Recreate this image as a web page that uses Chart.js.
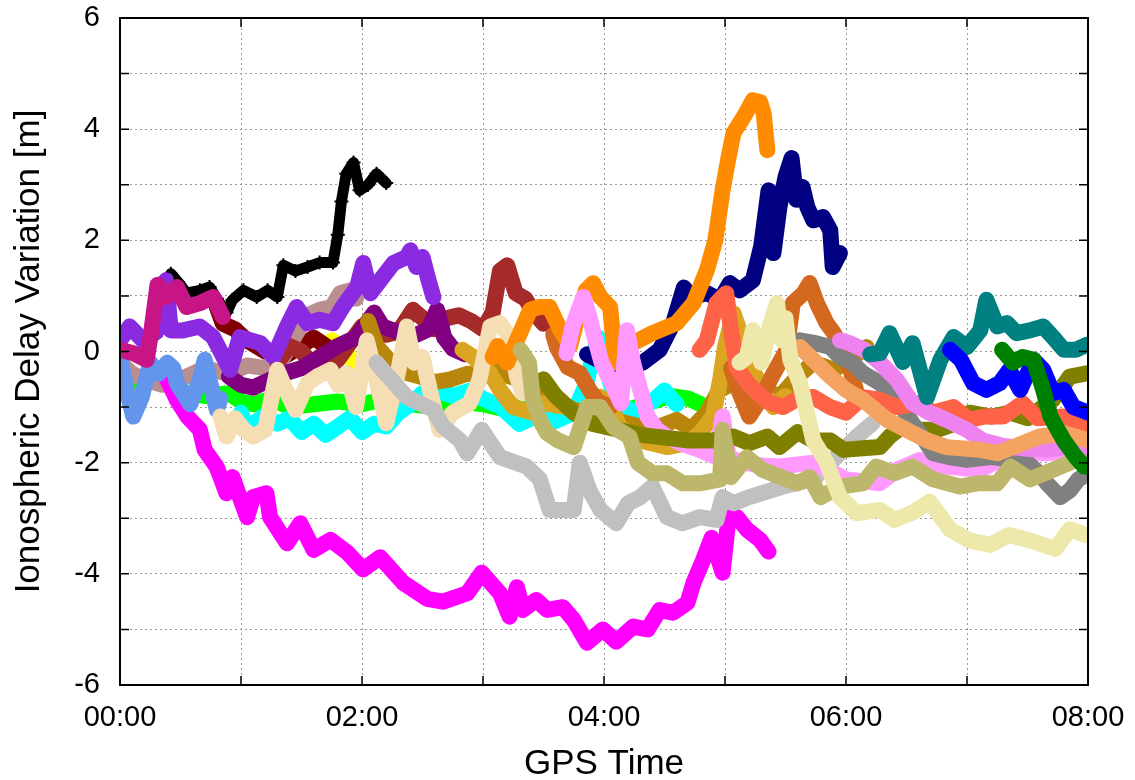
<!DOCTYPE html>
<html>
<head>
<meta charset="utf-8">
<script src="https://cdn.jsdelivr.net/npm/chart.js@4.4.1/dist/chart.umd.min.js"></script>
<style>
  html, body { margin: 0; padding: 0; background: #fff; }
  #wrap { width: 1135px; height: 780px; }
</style>
</head>
<body>
<div id="wrap"><canvas id="delayChart" width="1135" height="780"></canvas></div>
<script>
// x = GPS time in hours, y = ionospheric delay variation [m]
var xTicks = [0, 1, 2, 3, 4, 5, 6, 7, 8];
var yTicks = [-6, -5, -4, -3, -2, -1, 0, 1, 2, 3, 4, 5, 6];

var lime = [[0,-0.35],[0.1,-0.45],[0.15,-0.6],[0.25,-0.5],[0.4,-0.6],[0.55,-0.75],[0.7,-0.8],[0.9,-0.75],[1.0,-0.9],[1.1,-0.95],[1.25,-0.85],[1.4,-1.0],[1.6,-0.95],[1.8,-0.9],[2.0,-0.95],[2.2,-0.85],[2.4,-0.95],[2.6,-1.0],[2.8,-0.9],[3.0,-0.95],[3.2,-1.05],[3.4,-0.95],[3.6,-1.05],[3.8,-1.0],[4.0,-0.95],[4.2,-1.05],[4.4,-0.9],[4.55,-0.8],[4.7,-0.85],[4.8,-0.95]];
var cyan = [[1.0,-1.1],[1.05,-1.4],[1.1,-1.3],[1.2,-1.15],[1.3,-1.3],[1.4,-1.2],[1.5,-1.45],[1.6,-1.3],[1.7,-1.5],[1.8,-1.35],[1.9,-1.2],[2.0,-1.45],[2.1,-1.3],[2.2,-1.35],[2.3,-1.1],[2.4,-0.95],[2.5,-0.75],[2.6,-0.7],[2.75,-0.8],[2.9,-0.7],[3.0,-0.85],[3.15,-1.0],[3.3,-1.3],[3.45,-1.15],[3.6,-1.25],[3.75,-1.1],[3.85,-0.6],[3.95,0.25],[4.0,-0.2],[4.1,-0.9],[4.25,-1.1],[4.4,-0.9],[4.5,-0.7],[4.6,-0.95]];
var yellow = [[1.55,-0.3],[1.65,-0.1],[1.75,0.2],[1.85,0.05],[1.95,-0.25],[2.05,-0.4]];
var maroon = [[0.8,0.8],[0.85,0.5],[0.95,0.4],[1.05,0.2],[1.2,0.0],[1.35,-0.1],[1.5,0.1],[1.6,0.25],[1.7,0.1]];
var rosyBrown = [[0,-0.2],[0.1,-0.4],[0.2,-0.5],[0.35,-0.6],[0.5,-0.5],[0.7,-0.3],[0.9,-0.4],[1.05,-0.25],[1.2,-0.3],[1.35,-0.1],[1.45,0.3],[1.55,0.65],[1.65,0.75],[1.75,0.8],[1.82,1.05],[1.9,1.1],[1.95,0.95]];
var brown = [[1.3,-0.2],[1.4,0.1],[1.5,0.0],[1.6,-0.25],[1.7,-0.35],[1.8,-0.15],[1.9,0.15],[2.0,0.45],[2.1,0.3],[2.2,0.3],[2.3,0.35],[2.42,0.75],[2.5,0.6],[2.6,0.4],[2.7,0.6],[2.8,0.65],[2.9,0.55],[3.0,0.4],[3.08,0.7],[3.14,1.45],[3.2,1.55],[3.27,1.05],[3.35,0.95],[3.42,0.7],[3.5,0.5]];
var purple = [[0.9,-0.45],[1.0,-0.6],[1.1,-0.65],[1.2,-0.55],[1.35,-0.4],[1.5,-0.3],[1.65,-0.1],[1.8,0.1],[1.95,0.25],[2.1,0.7],[2.17,0.45],[2.3,0.35],[2.45,0.3],[2.55,0.4],[2.62,0.75],[2.68,0.25],[2.75,0.05],[2.85,-0.05]];
var magenta = [[0.38,-0.46],[0.47,-0.87],[0.56,-1.18],[0.66,-1.41],[0.7,-1.77],[0.8,-2.08],[0.88,-2.55],[0.93,-2.26],[1.05,-2.98],[1.1,-2.62],[1.21,-2.55],[1.24,-2.98],[1.38,-3.45],[1.49,-3.09],[1.6,-3.57],[1.74,-3.39],[1.88,-3.62],[2.01,-3.92],[2.15,-3.7],[2.34,-4.16],[2.54,-4.45],[2.67,-4.5],[2.87,-4.35],[2.99,-3.98],[3.14,-4.35],[3.22,-4.77],[3.28,-4.24],[3.33,-4.65],[3.44,-4.47],[3.53,-4.65],[3.66,-4.6],[3.75,-4.83],[3.86,-5.24],[3.99,-5.0],[4.1,-5.22],[4.24,-4.95],[4.36,-5.0],[4.46,-4.65],[4.57,-4.7],[4.69,-4.52],[4.74,-4.16],[4.82,-3.75],[4.89,-3.35],[4.98,-3.98],[5.03,-2.98],[5.1,-2.98],[5.18,-3.2],[5.29,-3.39],[5.36,-3.6]];
var black = [[0.42,1.4],[0.48,1.25],[0.55,1.05],[0.66,1.1],[0.74,1.16],[0.8,0.95],[0.88,0.7],[0.93,0.93],[1.02,1.1],[1.13,0.98],[1.22,1.1],[1.3,0.98],[1.35,1.55],[1.45,1.45],[1.55,1.52],[1.65,1.6],[1.76,1.6],[1.8,2.1],[1.83,2.7],[1.87,3.2],[1.93,3.4],[1.98,2.9],[2.05,3.0],[2.12,3.2],[2.2,3.03]];
var cornflower = [[0,-0.1],[0.05,-0.64],[0.11,-1.17],[0.18,-0.82],[0.25,-0.2],[0.32,-0.4],[0.39,-0.2],[0.44,-0.3],[0.47,-0.57],[0.58,-0.95],[0.66,-0.5],[0.7,-0.15],[0.75,-0.6],[0.8,-1.05],[0.83,-0.85]];
var blueViolet = [[0,0.2],[0.08,0.45],[0.19,0.2],[0.3,0.35],[0.38,1.28],[0.42,0.38],[0.52,0.38],[0.66,0.45],[0.77,0.26],[0.91,-0.33],[0.99,0.26],[1.16,0.15],[1.27,-0.1],[1.38,0.45],[1.46,0.8],[1.55,0.51],[1.65,0.57],[1.76,0.51],[1.84,0.8],[1.96,1.16],[2.01,1.59],[2.07,1.05],[2.15,1.28],[2.26,1.59],[2.37,1.7],[2.4,1.82],[2.45,1.52],[2.5,1.7],[2.55,1.28],[2.59,0.98]];
var violetRed = [[0,0.03],[0.11,-0.03],[0.22,-0.15],[0.26,0.38],[0.31,1.2],[0.39,0.98],[0.47,1.16],[0.55,0.8],[0.66,0.87],[0.77,0.98],[0.85,0.62]];
var darkGoldenrod = [[2.05,0.55],[2.12,0.1],[2.2,-0.1],[2.31,-0.35],[2.48,-0.45],[2.6,-0.55],[2.73,-0.5],[2.87,-0.4],[3.0,-0.45],[3.12,-0.35],[3.22,-0.45],[3.36,-0.55],[3.5,-0.65],[3.62,-0.9],[3.75,-1.05],[3.97,-1.17],[4.19,-1.29],[4.4,-1.4],[4.6,-1.23],[4.72,-1.4],[4.85,-1.1],[4.95,-0.7],[5.07,-0.57],[5.2,-0.75],[5.35,-0.7],[5.45,-0.82],[5.6,-0.45],[5.73,-0.2],[5.9,-0.33],[6.06,-0.1],[6.17,0.08]];
var goldenrod = [[2.83,0.03],[2.92,-0.1],[3.0,-0.28],[3.06,-0.39],[3.14,-0.69],[3.25,-1.0],[3.41,-1.1],[3.5,-0.93],[3.69,-1.0],[3.8,-1.17],[3.97,-0.82],[4.05,-0.93],[4.13,-1.36],[4.3,-1.6],[4.52,-1.72],[4.69,-1.65],[4.79,-1.47],[4.9,-1.17],[4.96,-0.51],[5.0,0.08],[5.07,0.69],[5.12,0.38],[5.2,-0.2],[5.31,-0.69],[5.4,-1.0],[5.5,-0.8]];
var wheat = [[0.83,-1.17],[0.88,-1.53],[0.95,-1.2],[1.02,-1.4],[1.1,-1.53],[1.2,-1.41],[1.3,-0.33],[1.37,-0.69],[1.45,-1.05],[1.55,-0.57],[1.63,-0.45],[1.74,-0.33],[1.8,-0.6],[1.87,-0.39],[1.95,-1.0],[2.04,0.2],[2.12,-0.51],[2.2,-1.29],[2.28,-0.57],[2.37,0.45],[2.43,-0.2],[2.5,-0.1],[2.56,-0.69],[2.64,-1.41],[2.75,-1.1],[2.89,-0.93],[2.97,-0.51],[3.06,0.45],[3.14,0.51],[3.22,0.26],[3.28,-0.45],[3.33,-0.75]];
var silver = [[2.12,-0.2],[2.17,-0.33],[2.37,-0.82],[2.59,-1.05],[2.67,-1.35],[2.81,-1.6],[2.87,-1.83],[2.99,-1.41],[3.14,-1.9],[3.36,-2.07],[3.47,-2.3],[3.55,-2.85],[3.75,-2.85],[3.8,-2.0],[3.88,-2.5],[3.97,-2.85],[4.1,-3.09],[4.2,-2.73],[4.3,-2.62],[4.4,-2.43],[4.52,-2.98],[4.65,-3.09],[4.79,-2.98],[4.93,-3.03],[4.98,-2.62],[5.07,-2.73],[5.2,-2.62],[5.48,-2.43],[5.73,-2.3],[5.92,-1.9],[6.09,-1.53],[6.22,-1.29]];
var chocolate = [[3.58,0.3],[3.61,0.08],[3.7,-0.28],[3.8,-0.39],[3.88,-0.69],[3.95,-0.9],[4.05,-1.0],[4.5,null],[5.05,-0.3],[5.1,-0.64],[5.2,-1.17],[5.29,-0.87],[5.4,-0.4],[5.51,0.03],[5.56,0.87],[5.65,1.05],[5.7,1.23],[5.76,0.87],[5.84,0.51],[5.9,0.33],[5.98,0.03],[6.03,-0.28],[6.09,-0.75]];
var navy = [[3.86,-0.05],[3.95,-0.15],[4.08,-0.28],[4.2,-0.3],[4.32,-0.2],[4.46,0.03],[4.57,0.5],[4.66,1.15],[4.72,0.98],[4.85,1.05],[4.96,0.93],[5.04,1.23],[5.12,1.1],[5.23,1.28],[5.3,1.9],[5.36,2.9],[5.4,1.77],[5.45,2.6],[5.5,3.14],[5.55,3.48],[5.59,2.73],[5.64,2.96],[5.68,2.6],[5.73,2.36],[5.81,2.42],[5.87,2.18],[5.89,1.52],[5.95,1.77]];
var orange = [[3.08,-0.1],[3.12,0.1],[3.2,-0.2],[3.3,0.3],[3.39,0.75],[3.46,0.8],[3.55,0.8],[3.64,0.38],[3.72,0.1],[3.78,0.6],[3.85,1.1],[3.91,1.23],[3.97,0.98],[4.05,0.8],[4.08,0.15],[4.1,-0.2],[4.17,0.0],[4.24,0.15],[4.4,0.33],[4.6,0.51],[4.74,0.87],[4.85,1.46],[4.92,2.0],[4.98,2.9],[5.03,3.5],[5.07,3.93],[5.12,4.1],[5.17,4.28],[5.23,4.52],[5.29,4.49],[5.32,4.28],[5.35,3.62]];
var lightPink = [[3.69,-0.03],[3.74,0.45],[3.83,0.98],[3.88,0.62],[3.93,0.2],[3.98,-0.2],[4.08,-0.64],[4.14,-0.93],[4.19,0.38],[4.24,-0.2],[4.3,-0.69],[4.36,-1.17],[4.44,-1.41],[4.52,-1.53],[4.63,-1.65],[4.79,-1.77],[4.93,-1.9],[4.98,-1.17],[5.03,-1.9],[5.15,-2.0],[5.3,-2.05],[5.45,-2.07],[5.73,-2.0],[6.0,-2.3],[6.28,-2.37],[6.42,-2.13],[6.61,-1.95],[6.83,-2.07],[7.11,-2.13],[7.38,-1.83],[7.66,-1.83],[8.0,-1.77]];
var olive = [[3.5,-0.5],[3.6,-0.8],[3.75,-1.1],[3.9,-1.3],[4.1,-1.4],[4.3,-1.5],[4.5,-1.55],[4.7,-1.6],[4.9,-1.6],[5.07,-1.53],[5.2,-1.65],[5.35,-1.53],[5.45,-1.72],[5.6,-1.45],[5.73,-1.6],[5.87,-1.6],[5.98,-1.77],[6.14,-1.74],[6.28,-1.72],[6.36,-1.53],[6.5,-1.29],[6.6,-1.41],[6.75,-1.41],[6.9,-1.3],[7.02,-1.1],[7.2,-1.17],[7.36,-1.1],[7.5,-1.2],[7.71,-0.87],[7.85,-0.45],[8.0,-0.39]];
var gray = [[5.55,0.1],[5.62,0.2],[5.75,0.15],[5.87,0.08],[5.95,-0.1],[6.05,-0.2],[6.14,-0.39],[6.28,-0.57],[6.42,-0.87],[6.55,-1.29],[6.65,-1.6],[6.72,-1.83],[6.85,-1.9],[7.0,-1.95],[7.2,-1.9],[7.38,-1.95],[7.5,-2.0],[7.6,-2.2],[7.66,-2.37],[7.77,-2.62],[7.85,-2.5],[7.92,-2.3],[8.0,-2.2]];
var tomato = [[4.79,0.03],[4.85,0.2],[4.93,0.87],[5.01,1.05],[5.05,0.38],[5.1,-0.3],[5.2,-0.6],[5.35,-0.9],[5.48,-1.0],[5.6,-0.85],[5.73,-0.82],[5.87,-1.0],[6.0,-1.1],[6.14,-0.82],[6.28,-0.87],[6.42,-1.0],[6.61,-0.93],[6.72,-1.1],[6.89,-1.0],[7.02,-1.23],[7.15,-1.17],[7.3,-1.17],[7.46,-0.93],[7.58,-1.2],[7.8,-1.17],[8.0,-1.36]];
var darkKhaki = [[3.31,0.03],[3.38,-0.2],[3.41,-0.82],[3.47,-1.23],[3.53,-1.47],[3.62,-1.6],[3.75,-1.72],[3.86,-1.0],[3.97,-1.0],[4.08,-1.36],[4.21,-1.53],[4.28,-2.0],[4.4,-2.19],[4.52,-2.19],[4.65,-2.37],[4.8,-2.37],[4.96,-2.3],[4.98,-1.41],[5.05,-2.26],[5.18,-1.9],[5.31,-2.13],[5.45,-2.25],[5.6,-2.37],[5.7,-2.26],[5.79,-2.62],[5.95,-2.43],[6.14,-2.37],[6.25,-2.07],[6.4,-2.19],[6.55,-2.07],[6.72,-2.3],[6.94,-2.43],[7.1,-2.37],[7.25,-2.37],[7.36,-2.07],[7.52,-2.3],[7.71,-2.13],[7.85,-2.0],[8.0,-1.77]];
var violet = [[5.95,0.2],[6.03,0.15],[6.15,0.03],[6.28,-0.2],[6.42,-0.51],[6.55,-0.93],[6.69,-1.1],[6.83,-1.23],[7.0,-1.41],[7.13,-1.6],[7.3,-1.7],[7.5,-1.75],[7.66,-1.77],[7.85,-1.7],[8.0,-1.72]];
var sandyBrown = [[5.62,0.08],[5.73,-0.15],[5.87,-0.45],[6.0,-0.69],[6.14,-0.87],[6.34,-1.23],[6.5,-1.41],[6.67,-1.6],[6.83,-1.72],[7.0,-1.75],[7.11,-1.77],[7.25,-1.83],[7.38,-1.72],[7.6,-1.53],[7.8,-1.47],[8.0,-1.6]];
var teal = [[6.2,-0.05],[6.28,-0.03],[6.36,0.33],[6.47,-0.19],[6.55,0.15],[6.67,-0.82],[6.78,-0.15],[6.89,0.26],[7.0,0.08],[7.11,0.38],[7.16,0.93],[7.25,0.45],[7.33,0.51],[7.41,0.33],[7.52,0.38],[7.63,0.45],[7.71,0.26],[7.8,0.03],[7.9,0.03],[7.99,0.12]];
var blue = [[6.86,0.03],[6.95,-0.15],[7.05,-0.57],[7.16,-0.69],[7.27,-0.57],[7.35,-0.33],[7.44,-0.69],[7.55,-0.15],[7.63,-0.33],[7.71,-0.75],[7.8,-0.69],[7.88,-1.0],[8.0,-1.1]];
var darkGreen = [[7.29,0.03],[7.38,-0.2],[7.46,-0.1],[7.55,-0.15],[7.63,-0.69],[7.69,-1.17],[7.8,-1.6],[7.9,-1.9],[7.97,-2.07]];
var paleGoldenrod = [[5.12,-0.2],[5.18,-0.1],[5.23,0.38],[5.3,-0.2],[5.37,0.45],[5.43,0.87],[5.47,0.2],[5.5,0.6],[5.54,-0.15],[5.62,-0.57],[5.73,-1.6],[5.84,-2.0],[5.95,-2.62],[6.09,-2.91],[6.28,-2.85],[6.4,-3.03],[6.55,-2.9],[6.69,-2.7],[6.86,-3.2],[7.02,-3.4],[7.19,-3.48],[7.35,-3.3],[7.52,-3.4],[7.73,-3.55],[7.85,-3.2],[7.98,-3.3]];

// drawing order: first is bottom
var seriesList = [
	[lime, '#00ff00'], [cyan, '#00ffff'], [yellow, '#ffff00'], [maroon, '#800000'],
	[rosyBrown, '#bc8f8f'], [brown, '#a52a2a'], [purple, '#800080'], [magenta, '#ff00ff'],
	[black, '#000000'], [cornflower, '#6495ed'], [blueViolet, '#8a2be2'], [violetRed, '#c71585'],
	[darkGoldenrod, '#b8860b'], [goldenrod, '#daa520'], [wheat, '#f5deb3'], [silver, '#c0c0c0'],
	[chocolate, '#d2691e'], [navy, '#000080'], [orange, '#ff8c00'], [lightPink, '#ff99ff'],
	[olive, '#808000'], [gray, '#808080'], [tomato, '#ff6347'], [darkKhaki, '#bdb76b'],
	[violet, '#ee82ee'], [sandyBrown, '#f4a460'], [teal, '#008080'], [blue, '#0000ff'],
	[darkGreen, '#008000'], [paleGoldenrod, '#eee8aa']
];

var datasets = [];
for (let i = 0; i < seriesList.length; i++) {
	var s = seriesList[i];
	var isBlack = s[1] == '#000000';
	datasets.push({
		data: s[0].map(function(p) { return { x: p[0], y: p[1] }; }),
		borderColor: s[1],
		backgroundColor: s[1],
		borderWidth: isBlack ? 11 : 16,
		borderCapStyle: 'round',
		borderJoinStyle: 'round',
		pointRadius: isBlack ? 7 : 0,
		pointStyle: 'cross',
		pointBorderWidth: 2,
		tension: 0,
		spanGaps: false,
		order: seriesList.length - i
	});
}

// frame and inward ticks like gnuplot
var framePlugin = {
	id: 'frame',
	afterDraw: function(chart) {
		var ctx = chart.ctx, a = chart.chartArea;
		var xs = chart.scales.x, ys = chart.scales.y;
		ctx.save();
		ctx.strokeStyle = '#000';
		ctx.lineWidth = 1.5;
		ctx.beginPath();
		for (let v of xTicks) {
			var px = xs.getPixelForValue(v);
			ctx.moveTo(px, a.bottom); ctx.lineTo(px, a.bottom - 9);
			ctx.moveTo(px, a.top); ctx.lineTo(px, a.top + 9);
		}
		for (let v of yTicks) {
			var py = ys.getPixelForValue(v);
			ctx.moveTo(a.left, py); ctx.lineTo(a.left + 9, py);
			ctx.moveTo(a.right, py); ctx.lineTo(a.right - 9, py);
		}
		ctx.stroke();
		ctx.lineWidth = 2;
		ctx.strokeRect(a.left, a.top, a.right - a.left, a.bottom - a.top);
		ctx.restore();
	}
};

var font = { family: '"Liberation Sans", Arial, sans-serif', size: 29 };
var titleFont = { family: '"Liberation Sans", Arial, sans-serif', size: 35 };

new Chart(document.getElementById('delayChart'), {
	type: 'line',
	data: { datasets: datasets },
	plugins: [framePlugin],
	options: {
		responsive: false,
		animation: false,
		layout: { padding: { top: 18, right: 47, left: 0, bottom: 0 } },
		plugins: { legend: { display: false }, tooltip: { enabled: false } },
		scales: {
			x: {
				type: 'linear',
				min: 0, max: 8,
				afterFit: function(s) { s.height = 95; s.paddingLeft = 0; s.paddingRight = 0; },
				afterBuildTicks: function(s) { s.ticks = xTicks.map(function(v) { return { value: v }; }); },
				grid: { color: '#999', lineWidth: 1, drawTicks: false },
				border: { display: false, dash: [2, 3] },
				ticks: {
					color: '#000', font: font, padding: 16, maxRotation: 0, autoSkip: false,
					callback: function(v) { return v % 2 === 0 ? String(v).padStart(2, '0') + ':00' : ''; }
				},
				title: { display: true, text: 'GPS Time', color: '#000', font: titleFont, padding: { top: 0, bottom: -5 } }
			},
			y: {
				min: -6, max: 6,
				afterFit: function(s) { s.width = 120; s.paddingTop = 0; s.paddingBottom = 0; },
				afterBuildTicks: function(s) { s.ticks = yTicks.map(function(v) { return { value: v }; }); },
				grid: { color: '#999', lineWidth: 1, drawTicks: false },
				border: { display: false, dash: [2, 3] },
				ticks: {
					color: '#000', font: font, padding: 20,
					callback: function(v) { return v % 2 === 0 ? String(v) : ''; }
				},
				title: { display: true, text: 'Ionospheric Delay Variation [m]', color: '#000', font: titleFont, padding: { top: 8, bottom: 0 } }
			}
		}
	}
});
</script>
</body>
</html>
